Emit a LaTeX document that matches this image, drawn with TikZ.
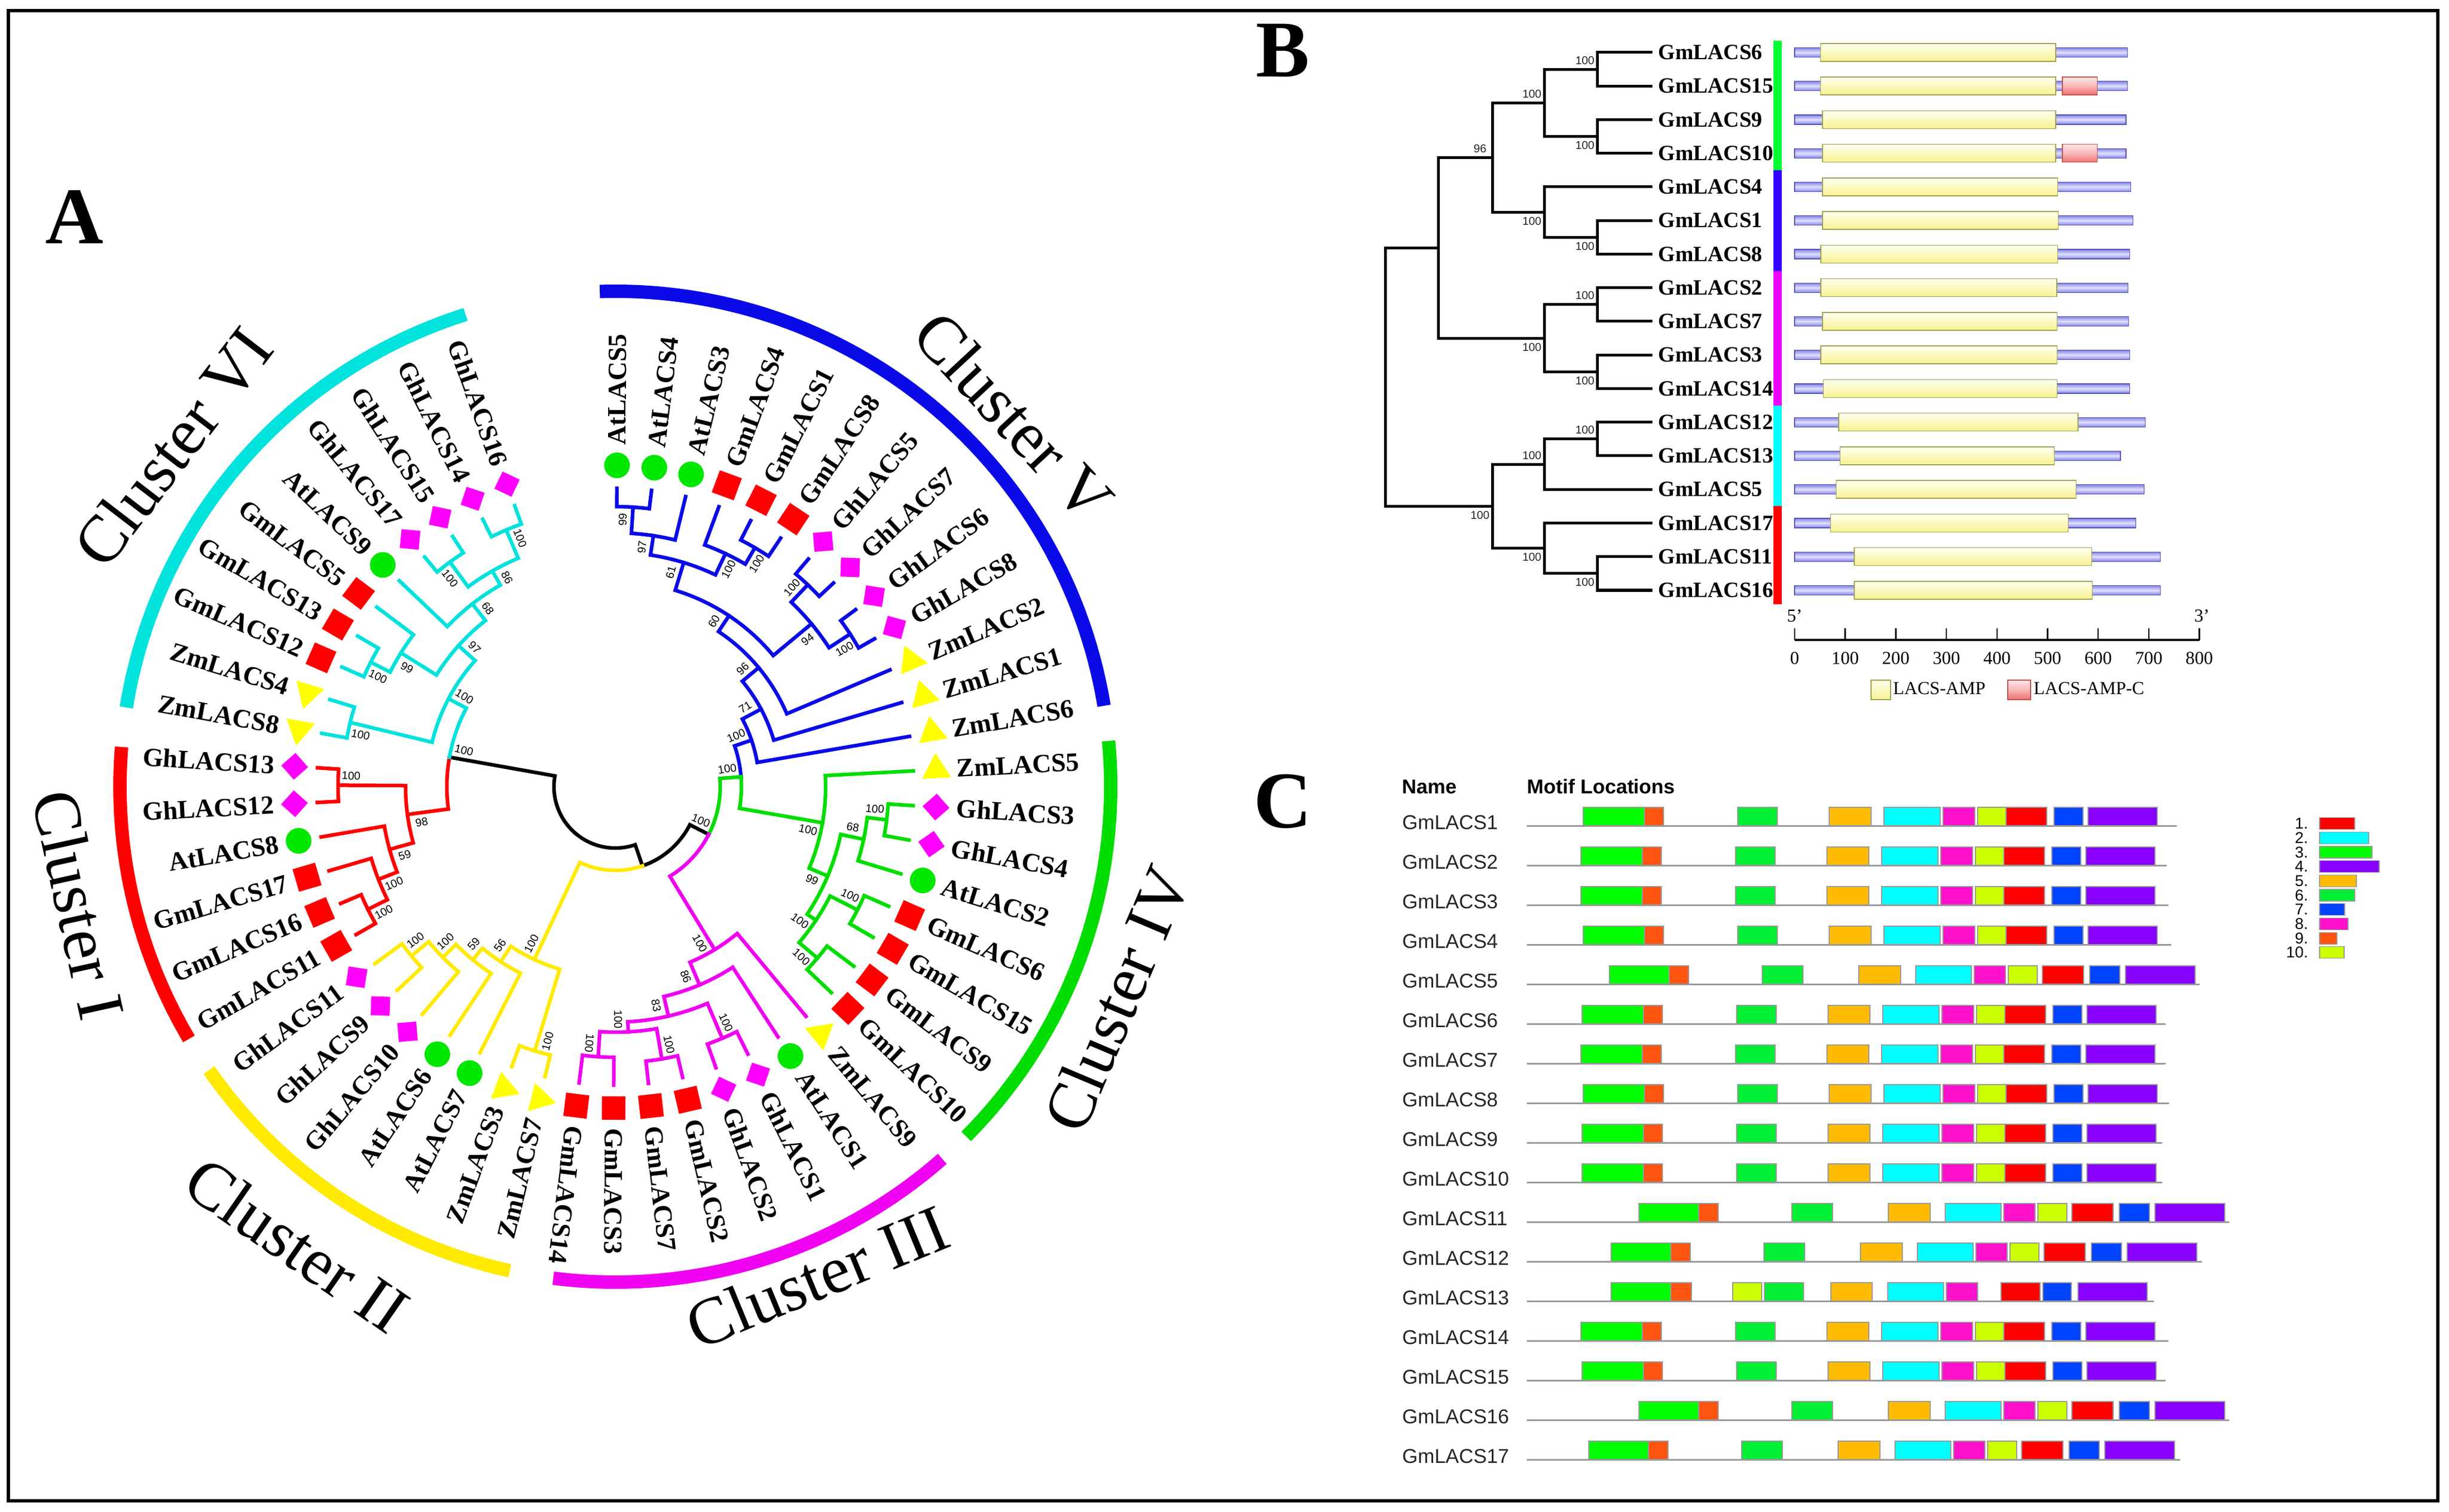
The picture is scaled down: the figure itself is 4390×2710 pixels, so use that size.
\documentclass[tikz,border=0pt]{standalone}
\usepackage{fontspec}
\setmainfont{Liberation Serif}
\newfontfamily\arialf{Liberation Sans}
\usetikzlibrary{shapes.geometric}

\definecolor{clI}{HTML}{FF0000}
\definecolor{clII}{HTML}{FFEA00}
\definecolor{clIII}{HTML}{F000F0}
\definecolor{clIV}{HTML}{00DD00}
\definecolor{clV}{HTML}{0A0AE8}
\definecolor{clVI}{HTML}{00E2DC}
\definecolor{symred}{HTML}{FF0000}
\definecolor{symgrn}{HTML}{00E800}
\definecolor{symmag}{HTML}{FF00FF}
\definecolor{symyel}{HTML}{FFFF00}
\definecolor{barG}{HTML}{00FF33}
\definecolor{barB}{HTML}{3300FF}
\definecolor{barM}{HTML}{EE00FF}
\definecolor{barC}{HTML}{00FFFF}
\definecolor{barR}{HTML}{FF0000}
\definecolor{protL}{HTML}{8484EA}
\definecolor{protD}{HTML}{5050B4}
\definecolor{ampT}{HTML}{FFFFF0}
\definecolor{ampB}{HTML}{F8F290}
\definecolor{ampD}{HTML}{A0A050}
\definecolor{ampcT}{HTML}{FFE6E6}
\definecolor{ampcB}{HTML}{F07070}
\definecolor{ampcD}{HTML}{C05050}
\definecolor{m1}{HTML}{FF0000}
\definecolor{m2}{HTML}{00FFFF}
\definecolor{m3}{HTML}{00FF00}
\definecolor{m4}{HTML}{8800FF}
\definecolor{m5}{HTML}{FFBB00}
\definecolor{m6}{HTML}{00EE33}
\definecolor{m7}{HTML}{0044FF}
\definecolor{m8}{HTML}{FF11CC}
\definecolor{m9}{HTML}{FF5511}
\definecolor{m10}{HTML}{CCFF00}

\newcounter{bootc}

\tikzset{
  panel/.style={font=\bfseries\fontsize{41}{45}\selectfont, inner sep=0pt},
  branch/.style={line width=0.065cm, line cap=rect},
  clusarc/.style={line width=0.24cm},
  leaflab/.style={font=\bfseries\fontsize{13.4}{15}\selectfont, inner sep=0pt},
  bootlab/.style={font=\arialf\fontsize{5.7}{6}\selectfont, inner sep=0pt},
  cluslab/.style={font=\fontsize{34}{38}\selectfont, inner sep=0pt},
  gmsym/.style={rectangle, fill=symred, minimum size=0.42cm, inner sep=0pt},
  atsym/.style={circle, fill=symgrn, minimum size=0.46cm, inner sep=0pt},
  ghsym/.style={rectangle, fill=symmag, minimum size=0.34cm, inner sep=0pt, rotate=45},
  zmsym/.style={regular polygon, regular polygon sides=3, fill=symyel, minimum size=0.6cm, inner sep=0pt},
  treeB/.style={line width=0.05cm, line cap=rect},
  glabB/.style={font=\bfseries\fontsize{11.1}{13}\selectfont, inner xsep=0.13cm, inner ysep=0pt},
  bootB/.style={font=\arialf\fontsize{5.8}{6}\selectfont, inner sep=0pt, text=black!85},
  axlab/.style={font=\fontsize{9.3}{11}\selectfont, inner sep=0pt},
  protbar/.style={draw=protD, line width=0.012cm, top color=protL, bottom color=protL, middle color=white!75!protL},
  amp/.style={draw=ampD, line width=0.015cm, top color=ampT, bottom color=ampB},
  ampc/.style={draw=ampcD, line width=0.015cm, top color=ampcT, bottom color=ampcB, middle color=ampcT!60!ampcB},
  mline/.style={draw=black!40, line width=0.03cm},
  motifbox/.style={draw=black!40, line width=0.012cm},
  mname/.style={font=\arialf\fontsize{10.2}{12}\selectfont, inner sep=0pt, text=black!85},
  headlab/.style={font=\arialf\bfseries\fontsize{10.2}{12}\selectfont, inner sep=0pt},
  leglab/.style={font=\arialf\fontsize{8}{9}\selectfont, inner sep=0pt}
}

\begin{document}
\begin{tikzpicture}[x=0.01cm,y=-0.01cm]
\newcommand{\rtip}{535}
\newcommand{\rsym}{576}
\newcommand{\rlab}{612}
\newcommand{\twig}[5]{\draw[branch,#1] ({90-#2}:#3) arc[start angle={90-#2},end angle={90-#4},radius=#3] -- ({90-#4}:#5);}
\newcommand{\boot}[4]{%
  \pgfmathsetmacro\bth{#1+(#3)*1031/(#2)}%
  \pgfmathsetmacro\bph{90-\bth}%
  \pgfmathsetmacro\brr{#2-23}%
  \stepcounter{bootc}%
  \ifdim\bth pt<190pt
    \node[bootlab,rotate=\bph] (bt\arabic{bootc}) at (\bph:\brr) {#4};
  \else
    \node[bootlab,rotate=\bph+180] (bt\arabic{bootc}) at (\bph:\brr) {#4};
  \fi}
\newcommand{\clade}[9]{%
  \draw[branch,#1] ({90-#6}:#7) -- ({90-#6}:#3) arc[start angle={90-#6},end angle={90-#8},radius=#3] -- ({90-#8}:#9);
  \boot{#2}{#3}{#4}{#5}}
\newcommand{\patA}{0/110/m3,110/144/m9,277/348/m6,441/516/m5,539/640/m2,645/702/m8,707/758/m10,758/831/m1,844/896/m7,905/1029/m4}
\newcommand{\patB}{0/107/m3,107/142/m9,274/347/m6,447/522/m5,549/649/m2,654/710/m8,715/767/m10,776/850/m1,861/915/m7,925/1050/m4}
\newcommand{\patS}{0/107/m3,107/144/m9,218/270/m10,275/345/m6,394/468/m5,496/596/m2,601/657/m8,699/769/m1,774/825/m7,837/961/m4}

\useasboundingbox (0,0) rectangle (4390,2710);
\draw[line width=0.06cm] (15,19) rectangle (4370,2690);

% A: circular tree
\node[panel] (pA) at (134,389) {A};
\begin{scope}[shift={(1103,1410)}, y=0.01cm]
\foreach \ta/\tb/\cc in {-1.8/80.6/clV, 84.7/134.9/clIV, 138.7/187.2/clIII, 192.3/235.1/clII, 239.4/274.6/clI, 279.2/342.4/clVI}
  \draw[clusarc,\cc] ({90-(\ta)}:888) arc[start angle={90-(\ta)},end angle={90-(\tb)},radius=888];

\twig{black}{220.59}{110}{161.08}{150}
\twig{black}{220.59}{110}{280.09}{302}
\twig{clI}{280.09}{302}{262.38}{376}
\twig{clVI}{280.09}{302}{297.80}{338}
\boot{280.09}{302}{1}{100}
\twig{black}{161.08}{150}{117.07}{188}
\twig{clII}{161.08}{150}{205.09}{342}
\twig{clIV}{117.07}{188}{85.51}{226}
\twig{clIII}{117.07}{188}{148.63}{342}
\boot{117.07}{188}{-1}{100}
\twig{clV}{85.51}{226}{71.13}{258}
\twig{clIV}{85.51}{226}{99.88}{377}
\boot{85.51}{226}{-1}{100}

% cluster V
\clade{clV}{71.13}{258}{-1}{100}{61.97}{296}{80.30}{\rtip}
\clade{clV}{61.97}{296}{-1}{71}{50.30}{334}{73.63}{\rtip}
\clade{clV}{50.30}{334}{-1}{96}{33.63}{368}{66.97}{\rtip}
\clade{clV}{33.63}{368}{-1}{60}{16.97}{420}{50.30}{457}
\clade{clV}{16.97}{420}{-1}{61}{8.63}{455}{25.30}{462}
\clade{clV}{8.63}{455}{-1}{97}{3.63}{502}{13.63}{\rtip}
\clade{clV}{3.63}{502}{-1}{99}{0.30}{\rtip}{6.97}{\rtip}
\clade{clV}{25.30}{462}{1}{100}{20.30}{\rtip}{30.30}{496}
\clade{clV}{30.30}{496}{1}{100}{26.97}{\rtip}{33.63}{\rtip}
\clade{clV}{50.30}{457}{1}{94}{43.63}{500}{56.97}{502}
\clade{clV}{43.63}{500}{-1}{100}{40.30}{\rtip}{46.97}{\rtip}
\clade{clV}{56.97}{502}{1}{100}{53.63}{\rtip}{60.30}{\rtip}
% cluster IV
\clade{clIV}{99.88}{377}{1}{100}{86.97}{\rtip}{112.80}{413}
\clade{clIV}{112.80}{413}{1}{99}{101.97}{455}{123.63}{432}
\clade{clIV}{101.97}{455}{-1}{68}{96.97}{490}{106.97}{\rtip}
\clade{clIV}{96.97}{490}{-1}{100}{93.63}{\rtip}{100.30}{\rtip}
\clade{clIV}{123.63}{432}{1}{100}{116.97}{487}{130.30}{475}
\clade{clIV}{116.97}{487}{-1}{100}{113.63}{\rtip}{120.30}{\rtip}
\clade{clIV}{130.30}{475}{1}{100}{126.97}{\rtip}{133.63}{\rtip}
% cluster III
\clade{clIII}{148.63}{342}{1}{100}{140.30}{\rtip}{156.97}{386}
\clade{clIII}{156.97}{386}{1}{86}{146.97}{\rtip}{166.97}{422}
\clade{clIII}{166.97}{422}{1}{83}{156.97}{490}{176.97}{440}
\clade{clIII}{156.97}{490}{-1}{100}{153.63}{\rtip}{160.30}{\rtip}
\clade{clIII}{176.97}{440}{1}{100}{170.30}{495}{183.63}{485}
\clade{clIII}{170.30}{495}{-1}{100}{166.97}{\rtip}{173.63}{\rtip}
\clade{clIII}{183.63}{485}{1}{100}{180.30}{\rtip}{186.97}{\rtip}
% cluster II
\clade{clII}{205.09}{342}{1}{100}{196.97}{495}{213.22}{375}
\clade{clII}{196.97}{495}{-1}{100}{193.63}{\rtip}{200.30}{\rtip}
\clade{clII}{213.22}{375}{1}{56}{206.97}{\rtip}{219.47}{402}
\clade{clII}{219.47}{402}{1}{59}{213.63}{\rtip}{225.30}{435}
\clade{clII}{225.30}{435}{1}{100}{220.30}{\rtip}{230.30}{475}
\clade{clII}{230.30}{475}{1}{100}{226.97}{\rtip}{233.63}{\rtip}
% cluster I
\clade{clI}{262.38}{376}{-1}{98}{254.47}{420}{270.30}{497}
\clade{clI}{254.47}{420}{-1}{59}{248.63}{456}{260.30}{\rtip}
\clade{clI}{248.63}{456}{-1}{100}{243.63}{495}{253.63}{\rtip}
\clade{clI}{243.63}{495}{-1}{100}{240.30}{\rtip}{246.97}{\rtip}
\clade{clI}{270.30}{497}{1}{100}{266.97}{\rtip}{273.63}{\rtip}
% cluster VI
\clade{clVI}{297.80}{338}{1}{100}{283.63}{489}{311.97}{378}
\clade{clVI}{283.63}{489}{-1}{100}{280.30}{\rtip}{286.97}{\rtip}
\clade{clVI}{311.97}{378}{1}{97}{301.97}{453}{321.97}{416}
\clade{clVI}{301.97}{453}{-1}{99}{296.97}{492}{306.97}{\rtip}
\clade{clVI}{296.97}{492}{-1}{100}{293.63}{\rtip}{300.30}{\rtip}
\clade{clVI}{321.97}{416}{1}{68}{313.63}{\rtip}{330.30}{445}
\clade{clVI}{330.30}{445}{1}{86}{323.63}{500}{336.97}{500}
\clade{clVI}{323.63}{500}{-1}{100}{320.30}{\rtip}{326.97}{\rtip}
\clade{clVI}{336.97}{500}{1}{100}{333.63}{\rtip}{340.30}{\rtip}

\foreach \nm/\sy [count=\k from 0] in {AtLACS5/atsym, AtLACS4/atsym, AtLACS3/atsym, GmLACS4/gmsym, GmLACS1/gmsym, GmLACS8/gmsym, GhLACS5/ghsym, GhLACS7/ghsym, GhLACS6/ghsym, GhLACS8/ghsym, ZmLACS2/zmsym, ZmLACS1/zmsym, ZmLACS6/zmsym,
  ZmLACS5/zmsym, GhLACS3/ghsym, GhLACS4/ghsym, AtLACS2/atsym, GmLACS6/gmsym, GmLACS15/gmsym, GmLACS9/gmsym, GmLACS10/gmsym,
  ZmLACS9/zmsym, AtLACS1/atsym, GhLACS1/ghsym, GhLACS2/ghsym, GmLACS2/gmsym, GmLACS7/gmsym, GmLACS3/gmsym, GmLACS14/gmsym,
  ZmLACS7/zmsym, ZmLACS3/zmsym, AtLACS7/atsym, AtLACS6/atsym, GhLACS10/ghsym, GhLACS9/ghsym, GhLACS11/ghsym,
  GmLACS11/gmsym, GmLACS16/gmsym, GmLACS17/gmsym, AtLACS8/atsym, GhLACS12/ghsym, GhLACS13/ghsym,
  ZmLACS8/zmsym, ZmLACS4/zmsym, GmLACS12/gmsym, GmLACS13/gmsym, GmLACS5/gmsym, AtLACS9/atsym, GhLACS17/ghsym, GhLACS15/ghsym, GhLACS14/ghsym, GhLACS16/ghsym}
{
  \pgfmathsetmacro\pa{90-(0.3+6.6667*\k)}
  \node[\sy,rotate=\pa] (s\k) at (\pa:\rsym) {};
  \ifdim\pa pt>-100pt
    \node[leaflab,rotate=\pa,anchor=west] (l\k) at (\pa:\rlab) {\nm};
  \else
    \node[leaflab,rotate=\pa+180,anchor=east] (l\k) at (\pa:\rlab) {\nm};
  \fi
}

\node[cluslab,rotate=52.5] (cVI) at ({90-307.5}:1000) {Cluster VI};
\node[cluslab,rotate=-47.1] (cV) at ({90-47.1}:975) {Cluster V};
\node[cluslab,rotate=67.1] (cIV) at ({90-112.9}:976) {Cluster IV};
\node[cluslab,rotate=22.4] (cIII) at ({90-157.6}:950) {Cluster III};
\node[cluslab,rotate=-34.8] (cII) at ({90-214.8}:1000) {Cluster II};
\node[cluslab,rotate=-77.6] (cI) at ({90-257.6}:985) {Cluster I};
\end{scope}

% B: gene tree and domains
\node[panel] (pB) at (2300,91) {B};
\foreach \nm [count=\i] in {6,15,9,10,4,1,8,2,7,3,14,12,13,5,17,11,16}
  \node[glabB,anchor=west] (g\nm) at (2959,{94+60.25*(\i-1)}) {GmLACS\nm};
\coordinate (a1) at (2863,124.13);
\coordinate (a3) at (2863,244.63);
\coordinate (a2) at (2768,184.38);
\coordinate (b1) at (2863,425.38);
\coordinate (b2) at (2768,380.19);
\coordinate (a4) at (2675,282.28);
\coordinate (c1) at (2863,545.88);
\coordinate (c2) at (2863,666.38);
\coordinate (c3) at (2768,606.13);
\coordinate (t1) at (2578,444.20);
\coordinate (d1) at (2863,786.88);
\coordinate (d2) at (2768,832.06);
\coordinate (e1) at (2863,1027.88);
\coordinate (e2) at (2768,982.69);
\coordinate (d4) at (2675,907.38);
\coordinate (rt) at (2483,675.79);
\draw[treeB] (rt) |- (t1) (rt) |- (d4)
  (t1) |- (a4) (t1) |- (c3)
  (a4) |- (a2) (a4) |- (b2)
  (a2) |- (a1) (a2) |- (a3)
  (a1) |- (g6.west) (a1) |- (g15.west)
  (a3) |- (g9.west) (a3) |- (g10.west)
  (b2) |- (g4.west) (b2) |- (b1)
  (b1) |- (g1.west) (b1) |- (g8.west)
  (c3) |- (c1) (c3) |- (c2)
  (c1) |- (g2.west) (c1) |- (g7.west)
  (c2) |- (g3.west) (c2) |- (g14.west)
  (d4) |- (d2) (d4) |- (e2)
  (d2) |- (d1) (d2) |- (g5.west)
  (d1) |- (g12.west) (d1) |- (g13.west)
  (e2) |- (g17.west) (e2) |- (e1)
  (e1) |- (g11.west) (e1) |- (g16.west);
\foreach \cn/\dy/\bv in {a1/1/100, a2/1/100, a3/-1/100, a4/1/96, b1/-1/100, b2/-1/100, c1/1/100, c2/-1/100, c3/-1/100, d1/1/100, d2/1/100, d4/-1/100, e1/-1/100, e2/-1/100}
  \node[bootB] (bb\cn) at ([xshift=-0.22cm,yshift=\dy*0.16cm]\cn) {\bv};

\fill[barG] (3179,73) rectangle (3194,305);
\fill[barB] (3179,305) rectangle (3194,486);
\fill[barM] (3179,486) rectangle (3194,727);
\fill[barC] (3179,727) rectangle (3194,907);
\fill[barR] (3179,907) rectangle (3194,1083);

\begin{scope}[shift={(3217,0)}, x=0.00906cm]
\foreach \len/\ya/\yb [count=\i] in {658/51/516, 658/51/516, 655/55/516, 655/55/516, 664/55/520, 669/55/521, 662/52/520, 659/52/518, 660/55/519, 662/52/519, 662/57/519, 693/87/560, 644/90/513, 691/82/556, 674/71/541, 723/118/587, 723/118/588}
{
  \pgfmathsetmacro\yr{94+60.25*(\i-1)}
  \path[protbar] (0,{\yr-8.5}) rectangle (\len,{\yr+8.5});
  \path[amp] (\ya,{\yr-16}) rectangle (\yb,{\yr+16});
}
\path[ampc] (529,138.25) rectangle (598,170.25);
\path[ampc] (529,258.75) rectangle (598,290.75);
\draw[line width=0.045cm] (0,1147) -- (800,1147);
\foreach \t in {0,100,...,800}{
  \draw[line width=0.025cm] (\t,1147) -- (\t,1126);
  \node[axlab] (ax\t) at (\t,1180) {\t};
}
\node[axlab] (five) at (0,1104) {5'};
\node[axlab] (three) at (805,1104) {3'};
\end{scope}
\path[amp] (3354,1219) rectangle (3389,1254);
\node[axlab,anchor=west] (lgA) at (3393,1234) {LACS-AMP};
\path[ampc] (3599,1219) rectangle (3640,1254);
\node[axlab,anchor=west] (lgC) at (3645,1234) {LACS-AMP-C};

% C: motifs
\node[panel] (pC) at (2300,1436) {C};
\node[headlab,anchor=west] (hN) at (2513,1410) {Name};
\node[headlab,anchor=west] (hM) at (2737,1410) {Motif Locations};
\foreach \i/\xo/\xe/\pat in {1/2838/3902/A, 2/2834/3884/A, 3/2834/3887/A, 4/2838/3892/A, 5/2885/3943/B, 6/2836/3882/A, 7/2834/3882/A, 8/2838/3888/A, 9/2836/3876/A, 10/2836/3876/A, 11/2938/3996/B, 12/2888/3947/B, 13/2888/3861/S, 14/2834/3887/A, 15/2836/3882/A, 16/2938/3996/B, 17/2848/3908/B}
{
  \pgfmathsetmacro\yl{1480+71*(\i-1)}
  \draw[mline] (2737,\yl) -- (\xe,\yl);
  \node[mname,anchor=west] (n\i) at (2513,{\yl-6}) {GmLACS\i};
  \expandafter\let\expandafter\curpat\csname pat\pat\endcsname
  \foreach \ma/\mb/\mc in \curpat
    \draw[motifbox,fill=\mc] ({\xo+\ma},{\yl-33}) rectangle ({\xo+\mb},\yl);
}
\foreach \w [count=\j] in {63,88,94,107,66,63,45,51,31,44}{
  \pgfmathsetmacro\yk{1476+25.7*(\j-1)}
  \node[leglab,anchor=east] (k\j) at (4138,\yk) {\j.};
  \draw[motifbox,fill=m\j] (4158,{\yk-10.5}) rectangle ({4158+\w},{\yk+10.5});
}
\end{tikzpicture}
\end{document}
